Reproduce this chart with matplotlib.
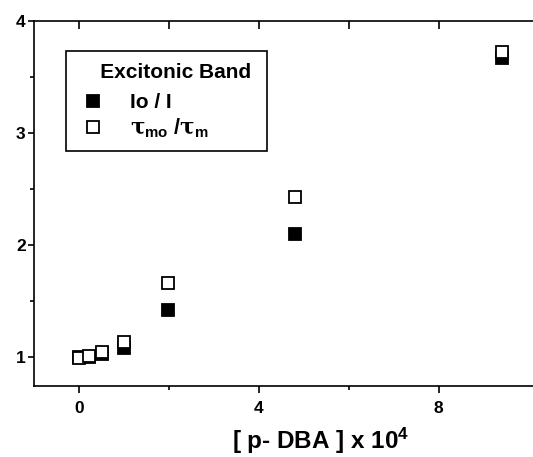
import matplotlib
matplotlib.use("Agg")
from matplotlib import pyplot as plt
from matplotlib.ticker import FixedLocator
from matplotlib.patches import Rectangle

plt.rcParams['font.family'] = ['Liberation Sans', 'DejaVu Sans']
plt.rcParams['font.weight'] = 'bold'
plt.rcParams['mathtext.fontset'] = 'custom'
plt.rcParams['mathtext.rm'] = 'Liberation Sans:bold'
plt.rcParams['mathtext.it'] = 'DejaVu Serif'

# [p-DBA] x 10^4
conc = [0.0, 0.22, 0.51, 1.0, 1.98, 4.8, 9.4]
io_i = [1.0, 1.0, 1.03, 1.08, 1.42, 2.10, 3.67]
tau_ratio = [0.99, 1.01, 1.04, 1.13, 1.66, 2.43, 3.72]

fig = plt.figure(figsize=(5.33, 4.57), dpi=100)
ax = fig.add_axes([34 / 533, 1 - 386 / 457, 506 / 533, 365 / 457])

ax.plot(conc, io_i, 's', color='black', mec='black', ms=8.5, mew=1.3,
        label='Io / I')
ax.plot(conc, tau_ratio, 's', color='white', mec='black', ms=8.5, mew=1.3,
        label=r'$\tau_{\mathrm{mo}}$ /$\tau_{\mathrm{m}}$')

ax.set_xlim(-1.0, 10.25)
ax.set_ylim(0.74, 4.0)
ax.set_xticks([0, 4, 8])
ax.xaxis.set_minor_locator(FixedLocator([2, 6]))
ax.set_yticks([1, 2, 3, 4])
ax.yaxis.set_minor_locator(FixedLocator([1.5, 2.5, 3.5]))
ax.tick_params(axis='both', which='major', length=5, width=1.2, labelsize=12.5)
ax.tick_params(axis='both', which='minor', length=3, width=1.2)
ax.tick_params(axis='x', which='major', pad=6)
ax.tick_params(axis='y', which='major', length=4.5, pad=1.5)
ax.spines['right'].set_visible(False)
for s in ['left', 'bottom', 'top']:
    ax.spines[s].set_linewidth(1.2)

top = ax.secondary_xaxis('top')
top.set_xticks([0, 4, 8])
top.xaxis.set_minor_locator(FixedLocator([2, 6]))
top.tick_params(axis='x', which='both', direction='in', labeltop=False,
                length=5.5, width=1.2)
top.spines['top'].set_visible(False)

ax.set_xlabel(r'[ p- DBA ] x 10$^{\mathrm{4}}$', fontsize=17.5,
              fontweight='bold')
ax.xaxis.set_label_coords((321 - 34) / 506, -(441 - 386) / 365)
ax.xaxis.label.set_va('center')

# legend frame drawn separately so the padding can be uneven
ax.add_patch(Rectangle(((66 - 34) / 506, 1 - (151 - 21) / 365),
                       201 / 506, 100 / 365, transform=ax.transAxes,
                       fill=False, ec='black', lw=1.2, clip_on=False))
leg = ax.legend(title='   Excitonic Band', loc='upper left',
                bbox_to_anchor=((83 - 34) / 506, 1 - (63 - 21) / 365),
                fontsize=15,
                title_fontproperties={'size': 15, 'weight': 'bold'},
                frameon=False, alignment='left', handletextpad=1.25,
                labelspacing=0.2, borderpad=0, handlelength=1.0,
                borderaxespad=0)
leg.get_texts()[1].set_fontsize(15.5)
leg._legend_box.sep = 8

fig.savefig('out.png', dpi=100)
